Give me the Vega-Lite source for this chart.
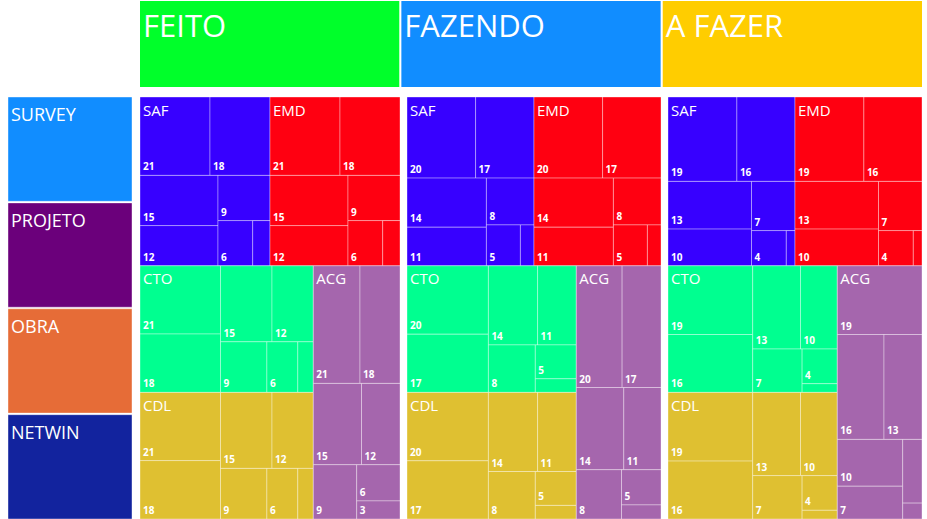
{
  "$schema": "https://vega.github.io/schema/vega-lite/v6.json",
  "background": "white",
  "padding": {"left": 7, "top": 1, "right": 0, "bottom": 0},
  "spacing": 6,
  "resolve": {"scale": {"color": "independent"}},
  "config": {"view": {"stroke": null}, "font": "Open Sans", "text": {"font": "Open Sans"}},
  "datasets": {
    "leaves": [
      {"p":"FEITO","g":"SAF","v":21,"x0":0,"x1":70,"y0":0,"y1":78.4},
      {"p":"FEITO","g":"SAF","v":18,"x0":70,"x1":130,"y0":0,"y1":78.4},
      {"p":"FEITO","g":"SAF","v":15,"x0":0,"x1":78,"y0":78.4,"y1":128.6},
      {"p":"FEITO","g":"SAF","v":12,"x0":0,"x1":78,"y0":128.6,"y1":168.8},
      {"p":"FEITO","g":"SAF","v":9,"x0":78,"x1":130,"y0":78.4,"y1":123.6},
      {"p":"FEITO","g":"SAF","v":6,"x0":78,"x1":112.7,"y0":123.6,"y1":168.8},
      {"p":"FEITO","g":"SAF","v":3,"x0":112.7,"x1":130,"y0":123.6,"y1":168.8},
      {"p":"FEITO","g":"EMD","v":21,"x0":130,"x1":200,"y0":0,"y1":78.4},
      {"p":"FEITO","g":"EMD","v":18,"x0":200,"x1":260,"y0":0,"y1":78.4},
      {"p":"FEITO","g":"EMD","v":15,"x0":130,"x1":208,"y0":78.4,"y1":128.6},
      {"p":"FEITO","g":"EMD","v":12,"x0":130,"x1":208,"y0":128.6,"y1":168.8},
      {"p":"FEITO","g":"EMD","v":9,"x0":208,"x1":260,"y0":78.4,"y1":123.6},
      {"p":"FEITO","g":"EMD","v":6,"x0":208,"x1":242.7,"y0":123.6,"y1":168.8},
      {"p":"FEITO","g":"EMD","v":3,"x0":242.7,"x1":260,"y0":123.6,"y1":168.8},
      {"p":"FEITO","g":"CTO","v":21,"x0":0,"x1":80.5,"y0":168.8,"y1":237.0},
      {"p":"FEITO","g":"CTO","v":18,"x0":0,"x1":80.5,"y0":237.0,"y1":295.4},
      {"p":"FEITO","g":"CTO","v":15,"x0":80.5,"x1":132.0,"y0":168.8,"y1":244.8},
      {"p":"FEITO","g":"CTO","v":12,"x0":132.0,"x1":173.3,"y0":168.8,"y1":244.8},
      {"p":"FEITO","g":"CTO","v":9,"x0":80.5,"x1":126.9,"y0":244.8,"y1":295.4},
      {"p":"FEITO","g":"CTO","v":6,"x0":126.9,"x1":157.8,"y0":244.8,"y1":295.4},
      {"p":"FEITO","g":"CTO","v":3,"x0":157.8,"x1":173.3,"y0":244.8,"y1":295.4},
      {"p":"FEITO","g":"CDL","v":21,"x0":0,"x1":80.5,"y0":295.4,"y1":363.6},
      {"p":"FEITO","g":"CDL","v":18,"x0":0,"x1":80.5,"y0":363.6,"y1":422},
      {"p":"FEITO","g":"CDL","v":15,"x0":80.5,"x1":132.0,"y0":295.4,"y1":371.4},
      {"p":"FEITO","g":"CDL","v":12,"x0":132.0,"x1":173.3,"y0":295.4,"y1":371.4},
      {"p":"FEITO","g":"CDL","v":9,"x0":80.5,"x1":126.9,"y0":371.4,"y1":422},
      {"p":"FEITO","g":"CDL","v":6,"x0":126.9,"x1":157.8,"y0":371.4,"y1":422},
      {"p":"FEITO","g":"CDL","v":3,"x0":157.8,"x1":173.3,"y0":371.4,"y1":422},
      {"p":"FEITO","g":"ACG","v":21,"x0":173.3,"x1":220.0,"y0":168.8,"y1":286.4},
      {"p":"FEITO","g":"ACG","v":18,"x0":220.0,"x1":260,"y0":168.8,"y1":286.4},
      {"p":"FEITO","g":"ACG","v":15,"x0":173.3,"x1":221.5,"y0":286.4,"y1":367.7},
      {"p":"FEITO","g":"ACG","v":12,"x0":221.5,"x1":260,"y0":286.4,"y1":367.7},
      {"p":"FEITO","g":"ACG","v":9,"x0":173.3,"x1":216.7,"y0":367.7,"y1":422},
      {"p":"FEITO","g":"ACG","v":6,"x0":216.7,"x1":260,"y0":367.7,"y1":403.9},
      {"p":"FEITO","g":"ACG","v":3,"x0":216.7,"x1":260,"y0":403.9,"y1":422},

      {"p":"FAZENDO","g":"SAF","v":20,"x0":0,"x1":68.6,"y0":0,"y1":81.1},
      {"p":"FAZENDO","g":"SAF","v":17,"x0":68.6,"x1":127,"y0":0,"y1":81.1},
      {"p":"FAZENDO","g":"SAF","v":14,"x0":0,"x1":79.4,"y0":81.1,"y1":130.2},
      {"p":"FAZENDO","g":"SAF","v":11,"x0":0,"x1":79.4,"y0":130.2,"y1":168.8},
      {"p":"FAZENDO","g":"SAF","v":8,"x0":79.4,"x1":127,"y0":81.1,"y1":127.9},
      {"p":"FAZENDO","g":"SAF","v":5,"x0":79.4,"x1":113.4,"y0":127.9,"y1":168.8},
      {"p":"FAZENDO","g":"SAF","v":2,"x0":113.4,"x1":127,"y0":127.9,"y1":168.8},
      {"p":"FAZENDO","g":"EMD","v":20,"x0":127,"x1":195.6,"y0":0,"y1":81.1},
      {"p":"FAZENDO","g":"EMD","v":17,"x0":195.6,"x1":254,"y0":0,"y1":81.1},
      {"p":"FAZENDO","g":"EMD","v":14,"x0":127,"x1":206.4,"y0":81.1,"y1":130.2},
      {"p":"FAZENDO","g":"EMD","v":11,"x0":127,"x1":206.4,"y0":130.2,"y1":168.8},
      {"p":"FAZENDO","g":"EMD","v":8,"x0":206.4,"x1":254,"y0":81.1,"y1":127.9},
      {"p":"FAZENDO","g":"EMD","v":5,"x0":206.4,"x1":240.4,"y0":127.9,"y1":168.8},
      {"p":"FAZENDO","g":"EMD","v":2,"x0":240.4,"x1":254,"y0":127.9,"y1":168.8},
      {"p":"FAZENDO","g":"CTO","v":20,"x0":0,"x1":81.4,"y0":168.8,"y1":237.2},
      {"p":"FAZENDO","g":"CTO","v":17,"x0":0,"x1":81.4,"y0":237.2,"y1":295.4},
      {"p":"FAZENDO","g":"CTO","v":14,"x0":81.4,"x1":130.6,"y0":168.8,"y1":247.9},
      {"p":"FAZENDO","g":"CTO","v":11,"x0":130.6,"x1":169.3,"y0":168.8,"y1":247.9},
      {"p":"FAZENDO","g":"CTO","v":8,"x0":81.4,"x1":128.3,"y0":247.9,"y1":295.4},
      {"p":"FAZENDO","g":"CTO","v":5,"x0":128.3,"x1":169.3,"y0":247.9,"y1":281.8},
      {"p":"FAZENDO","g":"CTO","v":2,"x0":128.3,"x1":169.3,"y0":281.8,"y1":295.4},
      {"p":"FAZENDO","g":"CDL","v":20,"x0":0,"x1":81.4,"y0":295.4,"y1":363.8},
      {"p":"FAZENDO","g":"CDL","v":17,"x0":0,"x1":81.4,"y0":363.8,"y1":422},
      {"p":"FAZENDO","g":"CDL","v":14,"x0":81.4,"x1":130.6,"y0":295.4,"y1":374.5},
      {"p":"FAZENDO","g":"CDL","v":11,"x0":130.6,"x1":169.3,"y0":295.4,"y1":374.5},
      {"p":"FAZENDO","g":"CDL","v":8,"x0":81.4,"x1":128.3,"y0":374.5,"y1":422},
      {"p":"FAZENDO","g":"CDL","v":5,"x0":128.3,"x1":169.3,"y0":374.5,"y1":408.4},
      {"p":"FAZENDO","g":"CDL","v":2,"x0":128.3,"x1":169.3,"y0":408.4,"y1":422},
      {"p":"FAZENDO","g":"ACG","v":20,"x0":169.3,"x1":215.1,"y0":168.8,"y1":290.5},
      {"p":"FAZENDO","g":"ACG","v":17,"x0":215.1,"x1":254,"y0":168.8,"y1":290.5},
      {"p":"FAZENDO","g":"ACG","v":14,"x0":169.3,"x1":216.8,"y0":290.5,"y1":372.7},
      {"p":"FAZENDO","g":"ACG","v":11,"x0":216.8,"x1":254,"y0":290.5,"y1":372.7},
      {"p":"FAZENDO","g":"ACG","v":8,"x0":169.3,"x1":214.5,"y0":372.7,"y1":422},
      {"p":"FAZENDO","g":"ACG","v":5,"x0":214.5,"x1":254,"y0":372.7,"y1":407.9},
      {"p":"FAZENDO","g":"ACG","v":2,"x0":214.5,"x1":254,"y0":407.9,"y1":422},

      {"p":"A FAZER","g":"SAF","v":19,"x0":0,"x1":68.9,"y0":0,"y1":84.4},
      {"p":"A FAZER","g":"SAF","v":16,"x0":68.9,"x1":127,"y0":0,"y1":84.4},
      {"p":"A FAZER","g":"SAF","v":13,"x0":0,"x1":83.5,"y0":84.4,"y1":132.1},
      {"p":"A FAZER","g":"SAF","v":10,"x0":0,"x1":83.5,"y0":132.1,"y1":168.8},
      {"p":"A FAZER","g":"SAF","v":7,"x0":83.5,"x1":127,"y0":84.4,"y1":133.6},
      {"p":"A FAZER","g":"SAF","v":4,"x0":83.5,"x1":118.3,"y0":133.6,"y1":168.8},
      {"p":"A FAZER","g":"SAF","v":1,"x0":118.3,"x1":127,"y0":133.6,"y1":168.8},
      {"p":"A FAZER","g":"EMD","v":19,"x0":127,"x1":195.9,"y0":0,"y1":84.4},
      {"p":"A FAZER","g":"EMD","v":16,"x0":195.9,"x1":254,"y0":0,"y1":84.4},
      {"p":"A FAZER","g":"EMD","v":13,"x0":127,"x1":210.5,"y0":84.4,"y1":132.1},
      {"p":"A FAZER","g":"EMD","v":10,"x0":127,"x1":210.5,"y0":132.1,"y1":168.8},
      {"p":"A FAZER","g":"EMD","v":7,"x0":210.5,"x1":254,"y0":84.4,"y1":133.6},
      {"p":"A FAZER","g":"EMD","v":4,"x0":210.5,"x1":245.3,"y0":133.6,"y1":168.8},
      {"p":"A FAZER","g":"EMD","v":1,"x0":245.3,"x1":254,"y0":133.6,"y1":168.8},
      {"p":"A FAZER","g":"CTO","v":19,"x0":0,"x1":84.7,"y0":168.8,"y1":237.5},
      {"p":"A FAZER","g":"CTO","v":16,"x0":0,"x1":84.7,"y0":237.5,"y1":295.4},
      {"p":"A FAZER","g":"CTO","v":13,"x0":84.7,"x1":132.5,"y0":168.8,"y1":252.0},
      {"p":"A FAZER","g":"CTO","v":10,"x0":132.5,"x1":169.3,"y0":168.8,"y1":252.0},
      {"p":"A FAZER","g":"CTO","v":7,"x0":84.7,"x1":134.1,"y0":252.0,"y1":295.4},
      {"p":"A FAZER","g":"CTO","v":4,"x0":134.1,"x1":169.3,"y0":252.0,"y1":286.7},
      {"p":"A FAZER","g":"CTO","v":1,"x0":134.1,"x1":169.3,"y0":286.7,"y1":295.4},
      {"p":"A FAZER","g":"CDL","v":19,"x0":0,"x1":84.7,"y0":295.4,"y1":364.1},
      {"p":"A FAZER","g":"CDL","v":16,"x0":0,"x1":84.7,"y0":364.1,"y1":422},
      {"p":"A FAZER","g":"CDL","v":13,"x0":84.7,"x1":132.5,"y0":295.4,"y1":378.6},
      {"p":"A FAZER","g":"CDL","v":10,"x0":132.5,"x1":169.3,"y0":295.4,"y1":378.6},
      {"p":"A FAZER","g":"CDL","v":7,"x0":84.7,"x1":134.1,"y0":378.6,"y1":422},
      {"p":"A FAZER","g":"CDL","v":4,"x0":134.1,"x1":169.3,"y0":378.6,"y1":413.3},
      {"p":"A FAZER","g":"CDL","v":1,"x0":134.1,"x1":169.3,"y0":413.3,"y1":422},
      {"p":"A FAZER","g":"ACG","v":19,"x0":169.3,"x1":254,"y0":168.8,"y1":237.5},
      {"p":"A FAZER","g":"ACG","v":16,"x0":169.3,"x1":216.0,"y0":237.5,"y1":342.4},
      {"p":"A FAZER","g":"ACG","v":13,"x0":216.0,"x1":254,"y0":237.5,"y1":342.4},
      {"p":"A FAZER","g":"ACG","v":10,"x0":169.3,"x1":234.7,"y0":342.4,"y1":389.2},
      {"p":"A FAZER","g":"ACG","v":7,"x0":169.3,"x1":234.7,"y0":389.2,"y1":422},
      {"p":"A FAZER","g":"ACG","v":4,"x0":234.7,"x1":254,"y0":342.4,"y1":406.1},
      {"p":"A FAZER","g":"ACG","v":1,"x0":234.7,"x1":254,"y0":406.1,"y1":422}
    ]
  },
  "hconcat": [
    {
      "spacing": 9,
      "resolve": {"scale": {"color": "independent"}},
      "vconcat": [
        {
          "width": 124, "height": 86,
          "data": {"values": [{}]},
          "mark": {"type": "rect", "opacity": 0},
          "encoding": {}
        },
        {
          "width": 124, "height": 422,
          "data": {"values": [{"etapa": "SURVEY"}, {"etapa": "PROJETO"}, {"etapa": "OBRA"}, {"etapa": "NETWIN"}]},
          "encoding": {
            "y": {"field": "etapa", "type": "nominal", "sort": null, "scale": {"paddingInner": 0.015, "paddingOuter": 0}, "axis": null}
          },
          "layer": [
            {
              "mark": {"type": "rect", "stroke": "white", "strokeWidth": 1, "strokeOpacity": 0.4},
              "encoding": {
                "color": {"field": "etapa", "type": "nominal", "scale": {"domain": ["SURVEY", "PROJETO", "OBRA", "NETWIN"], "range": ["#118DFF", "#6B007B", "#E66C37", "#12239E"]}, "legend": null}
              }
            },
            {
              "mark": {"type": "text", "align": "left", "baseline": "alphabetic", "dx": 3, "dy": 24, "fontSize": 18, "color": "white"},
              "encoding": {
                "y": {"field": "etapa", "type": "nominal", "sort": null, "bandPosition": 0},
                "x": {"value": 0},
                "text": {"field": "etapa"}
              }
            }
          ]
        }
      ]
    },
    {
      "spacing": 9,
      "resolve": {"scale": {"color": "independent"}},
      "vconcat": [
        {
          "width": 782, "height": 86,
          "data": {"values": [{"status": "FEITO"}, {"status": "FAZENDO"}, {"status": "A FAZER"}]},
          "encoding": {
            "x": {"field": "status", "type": "nominal", "sort": null, "scale": {"paddingInner": 0.008, "paddingOuter": 0}, "axis": null}
          },
          "layer": [
            {
              "mark": {"type": "rect"},
              "encoding": {
                "color": {"field": "status", "type": "nominal", "scale": {"domain": ["FEITO", "FAZENDO", "A FAZER"], "range": ["#00FF2A", "#118DFF", "#FFCD00"]}, "legend": null}
              }
            },
            {
              "mark": {"type": "text", "align": "left", "baseline": "alphabetic", "dx": 3, "dy": 36, "fontSize": 31, "color": "white"},
              "encoding": {
                "x": {"field": "status", "type": "nominal", "sort": null, "bandPosition": 0},
                "y": {"value": 0},
                "text": {"field": "status"}
              }
            }
          ]
        },
        {
          "spacing": 5,
          "hconcat": [
            {
              "width": 260, "height": 422,
              "data": {"name": "leaves"},
              "transform": [{"filter": "datum.p == 'FEITO'"}],
              "encoding": {
                "x": {"field": "x0", "type": "quantitative", "scale": {"domain": [0, 260], "nice": false, "zero": false}, "axis": null},
                "y": {"field": "y0", "type": "quantitative", "scale": {"domain": [0, 422], "nice": false, "zero": false, "reverse": true}, "axis": null}
              },
              "layer": [
                {
                  "mark": {"type": "rect", "stroke": "white", "strokeWidth": 1, "strokeOpacity": 0.35},
                  "encoding": {
                    "x2": {"field": "x1"}, "y2": {"field": "y1"},
                    "color": {"field": "g", "type": "nominal", "scale": {"domain": ["SAF", "EMD", "CTO", "CDL", "ACG"], "range": ["#3700FF", "#FF0011", "#00FF90", "#DFC031", "#A566AD"]}, "legend": null}
                  }
                },
                {
                  "transform": [{"filter": "datum.x1 - datum.x0 >= 25 && datum.y1 - datum.y0 >= 15"}],
                  "mark": {"type": "text", "align": "left", "baseline": "alphabetic", "dx": 3, "dy": -5, "fontSize": 10, "fontWeight": "bold", "color": "white"},
                  "encoding": {"y": {"field": "y1", "type": "quantitative"}, "text": {"field": "v"}}
                },
                {
                  "transform": [{"joinaggregate": [{"op": "max", "field": "v", "as": "vmax"}], "groupby": ["g"]}, {"filter": "datum.v == datum.vmax"}],
                  "mark": {"type": "text", "align": "left", "baseline": "alphabetic", "dx": 3, "dy": 18.5, "fontSize": 15, "color": "white"},
                  "encoding": {"text": {"field": "g"}}
                }
              ]
            },
            {
              "width": 254, "height": 422,
              "data": {"name": "leaves"},
              "transform": [{"filter": "datum.p == 'FAZENDO'"}],
              "encoding": {
                "x": {"field": "x0", "type": "quantitative", "scale": {"domain": [0, 254], "nice": false, "zero": false}, "axis": null},
                "y": {"field": "y0", "type": "quantitative", "scale": {"domain": [0, 422], "nice": false, "zero": false, "reverse": true}, "axis": null}
              },
              "layer": [
                {
                  "mark": {"type": "rect", "stroke": "white", "strokeWidth": 1, "strokeOpacity": 0.35},
                  "encoding": {
                    "x2": {"field": "x1"}, "y2": {"field": "y1"},
                    "color": {"field": "g", "type": "nominal", "scale": {"domain": ["SAF", "EMD", "CTO", "CDL", "ACG"], "range": ["#3700FF", "#FF0011", "#00FF90", "#DFC031", "#A566AD"]}, "legend": null}
                  }
                },
                {
                  "transform": [{"filter": "datum.x1 - datum.x0 >= 25 && datum.y1 - datum.y0 >= 15"}],
                  "mark": {"type": "text", "align": "left", "baseline": "alphabetic", "dx": 3, "dy": -5, "fontSize": 10, "fontWeight": "bold", "color": "white"},
                  "encoding": {"y": {"field": "y1", "type": "quantitative"}, "text": {"field": "v"}}
                },
                {
                  "transform": [{"joinaggregate": [{"op": "max", "field": "v", "as": "vmax"}], "groupby": ["g"]}, {"filter": "datum.v == datum.vmax"}],
                  "mark": {"type": "text", "align": "left", "baseline": "alphabetic", "dx": 3, "dy": 18.5, "fontSize": 15, "color": "white"},
                  "encoding": {"text": {"field": "g"}}
                }
              ]
            },
            {
              "width": 254, "height": 422,
              "data": {"name": "leaves"},
              "transform": [{"filter": "datum.p == 'A FAZER'"}],
              "encoding": {
                "x": {"field": "x0", "type": "quantitative", "scale": {"domain": [0, 254], "nice": false, "zero": false}, "axis": null},
                "y": {"field": "y0", "type": "quantitative", "scale": {"domain": [0, 422], "nice": false, "zero": false, "reverse": true}, "axis": null}
              },
              "layer": [
                {
                  "mark": {"type": "rect", "stroke": "white", "strokeWidth": 1, "strokeOpacity": 0.35},
                  "encoding": {
                    "x2": {"field": "x1"}, "y2": {"field": "y1"},
                    "color": {"field": "g", "type": "nominal", "scale": {"domain": ["SAF", "EMD", "CTO", "CDL", "ACG"], "range": ["#3700FF", "#FF0011", "#00FF90", "#DFC031", "#A566AD"]}, "legend": null}
                  }
                },
                {
                  "transform": [{"filter": "datum.x1 - datum.x0 >= 25 && datum.y1 - datum.y0 >= 15"}],
                  "mark": {"type": "text", "align": "left", "baseline": "alphabetic", "dx": 3, "dy": -5, "fontSize": 10, "fontWeight": "bold", "color": "white"},
                  "encoding": {"y": {"field": "y1", "type": "quantitative"}, "text": {"field": "v"}}
                },
                {
                  "transform": [{"joinaggregate": [{"op": "max", "field": "v", "as": "vmax"}], "groupby": ["g"]}, {"filter": "datum.v == datum.vmax"}],
                  "mark": {"type": "text", "align": "left", "baseline": "alphabetic", "dx": 3, "dy": 18.5, "fontSize": 15, "color": "white"},
                  "encoding": {"text": {"field": "g"}}
                }
              ]
            }
          ]
        }
      ]
    }
  ]
}
